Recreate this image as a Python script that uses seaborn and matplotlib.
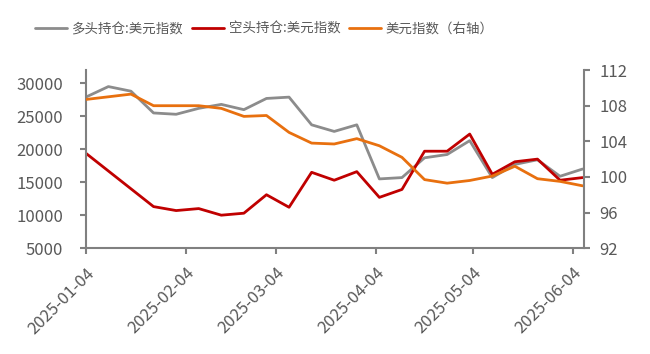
import matplotlib

matplotlib.use("Agg")
import matplotlib.dates as mdates
import matplotlib.pyplot as plt
import pandas as pd
import seaborn as sns

# weekly observations
dates = pd.date_range("2025-01-04", periods=23, freq="7D")

long_pos = [27900, 29500, 28800, 25500, 25300, 26200, 26800, 26000, 27700, 27900,
            23700, 22700, 23700, 15500, 15700, 18700, 19200, 21300, 15700, 17700,
            18400, 15900, 17000]
short_pos = [19400, 16700, 14000, 11300, 10700, 11000, 10000, 10300, 13100, 11200,
             16500, 15300, 16600, 12700, 13900, 19700, 19700, 22300, 16200, 18100,
             18500, 15300, 15700]
dxy = [108.7, 109.0, 109.3, 108.0, 108.0, 108.0, 107.7, 106.8, 106.9, 105.0,
       103.8, 103.7, 104.3, 103.5, 102.2, 99.7, 99.3, 99.6, 100.1, 101.2,
       99.8, 99.5, 99.0]

LABELS = ["多头持仓:美元指数", "空头持仓:美元指数", "美元指数（右轴）"]
COLORS = ["#8C8C8C", "#C00000", "#E8700F"]
AXIS_GRAY = "#808080"
TEXT_GRAY = "#595959"

sns.set_style("white")
plt.rcParams["font.family"] = ["Noto Sans CJK SC", "DejaVu Sans"]

df = pd.DataFrame({"date": dates, "long": long_pos, "short": short_pos, "dxy": dxy})

fig = plt.figure(figsize=(6.5, 3.54), dpi=100)
ax = fig.add_axes([0.132, 0.299, 0.766, 0.503])
ax2 = ax.twinx()

sns.lineplot(data=df, x="date", y="long", color=COLORS[0], linewidth=2.0,
             label=LABELS[0], ax=ax, legend=False)
sns.lineplot(data=df, x="date", y="short", color=COLORS[1], linewidth=2.0,
             label=LABELS[1], ax=ax, legend=False)
sns.lineplot(data=df, x="date", y="dxy", color=COLORS[2], linewidth=2.0,
             label=LABELS[2], ax=ax2, legend=False)

ax.set_xlim(pd.Timestamp("2025-01-04"), pd.Timestamp("2025-06-07 08:00"))
ax.set_ylim(5000, 32000)
ax.set_yticks(range(5000, 30001, 5000))
ax2.set_ylim(92, 112)
ax2.set_yticks(range(92, 113, 4))

ax.xaxis.set_major_locator(mdates.MonthLocator(bymonthday=4))
ax.xaxis.set_major_formatter(mdates.DateFormatter("%Y-%m-%d"))

ax.set_xlabel("")
ax.set_ylabel("")
ax2.set_ylabel("")

for a in (ax, ax2):
    for side in ("top", "right", "left", "bottom"):
        a.spines[side].set_visible(False)
    a.tick_params(colors=AXIS_GRAY, labelcolor=TEXT_GRAY, labelsize=12,
                  length=4.3, width=1.5)
ax.spines["left"].set_visible(True)
ax.spines["bottom"].set_visible(True)
ax2.spines["right"].set_visible(True)
for sp in (ax.spines["left"], ax.spines["bottom"], ax2.spines["right"]):
    sp.set_color(AXIS_GRAY)
    sp.set_linewidth(1.5)
ax.tick_params(axis="x", direction="out", bottom=True, pad=7.5)
ax.tick_params(axis="y", direction="out", left=True, pad=12)
ax2.tick_params(axis="y", direction="out", right=True, pad=7)

for lbl in ax.get_xticklabels():
    lbl.set_rotation(45)
    lbl.set_ha("right")
    lbl.set_rotation_mode("anchor")

handles = ax.get_lines()[:2] + ax2.get_lines()[:1]
fig.legend(handles, LABELS, loc="center left", bbox_to_anchor=(0.054, 0.918), ncol=3,
           frameon=False, fontsize=9.7, handlelength=2.4, columnspacing=0.6,
           handletextpad=0.35, borderpad=0, borderaxespad=0, labelcolor=TEXT_GRAY)

plt.savefig("out.png", dpi=100)
plt.close()
